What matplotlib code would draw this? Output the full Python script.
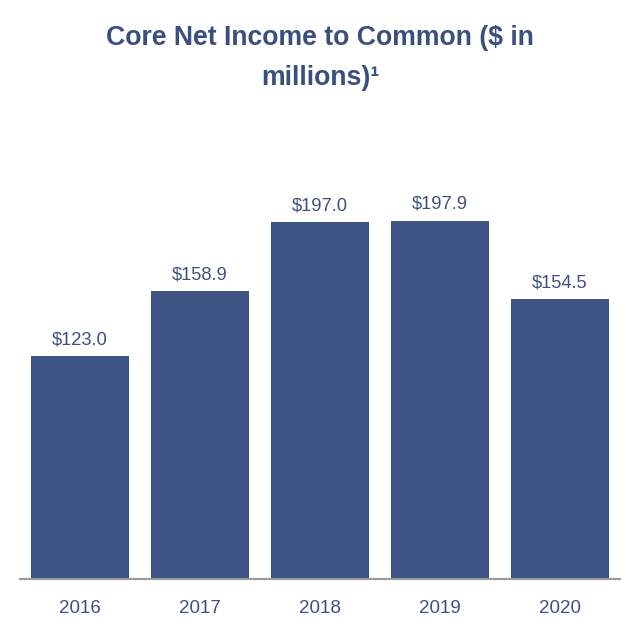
import matplotlib
matplotlib.use("Agg")
from matplotlib import pyplot as plt

years = ["2016", "2017", "2018", "2019", "2020"]
income = [123.0, 158.9, 197.0, 197.9, 154.5]
labels = ["$123.0", "$158.9", "$197.0", "$197.9", "$154.5"]

bar_color = "#3d5485"
text_color = "#3f5080"

plt.rcParams['font.family'] = ['Liberation Sans', 'DejaVu Sans']

fig = plt.figure(figsize=(6.4, 6.4), dpi=100)
# axes: x from 20 to 620 px, bottom at 579 px
ax = fig.add_axes([20/640, 1 - 579/640, 600/640, 438/640])

x = range(len(years))
bars = ax.bar(x, income, width=0.82, color=bar_color)
for xi, v, lab in zip(x, income, labels):
    ax.annotate(lab, (xi, v), xytext=(0, 6), textcoords="offset points",
                ha="center", va="bottom", fontsize=13.2, color=text_color)

ax.set_xlim(-0.5, 4.5)
ax.set_ylim(0, 242)
ax.set_xticks(list(x))
ax.set_xticklabels(years, fontsize=13.5, color=text_color)
ax.tick_params(axis="x", length=0, pad=15)
ax.set_yticks([])
for s in ["top", "right", "left"]:
    ax.spines[s].set_visible(False)
ax.spines["bottom"].set_color("#999999")
ax.spines["bottom"].set_linewidth(1.5)

fig.text(0.5, 1 - 58/640, "Core Net Income to Common ($ in\nmillions)\u00b9",
         ha="center", va="center", fontsize=19.2, fontweight="bold",
         color="#3b4f7f", linespacing=1.72)

fig.savefig("out.png", dpi=100, facecolor="white")
